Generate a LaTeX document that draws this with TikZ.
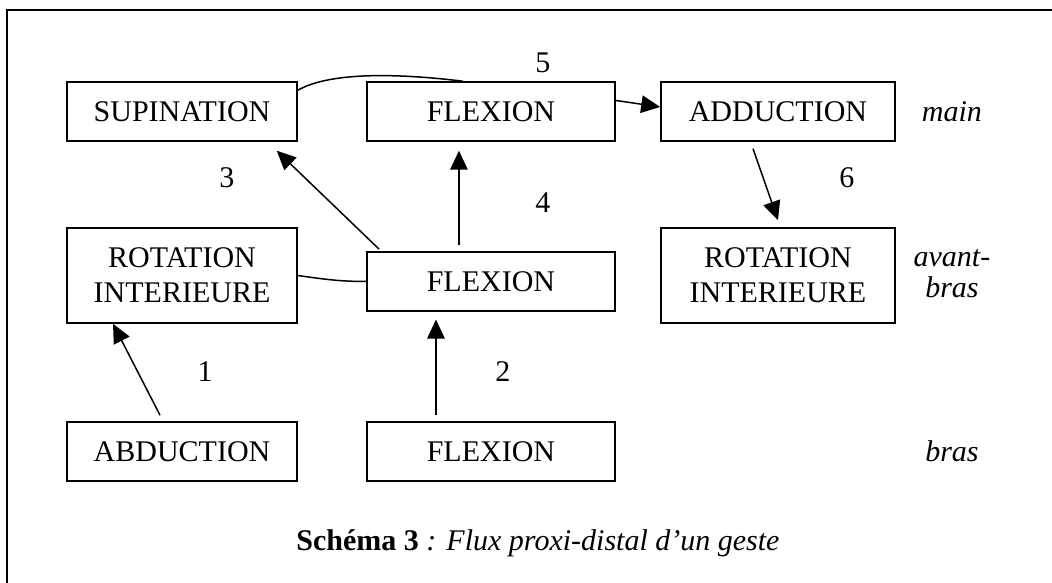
\documentclass[tikz,border=0pt]{standalone}
\usepackage{fontspec}
\setmainfont{Liberation Serif}
\usetikzlibrary{arrows.meta}

\begin{document}
\begin{tikzpicture}[
    font=\fontsize{12}{14}\selectfont,
    box/.style={draw, line width=0.6pt, align=center, inner sep=0pt,
        minimum width=#1, minimum height=0.829cm},
    seg/.style={font=\fontsize{12}{12.5}\selectfont\itshape, align=center},
    flow/.style={-{Triangle[length=7.6pt,width=7pt]}, line width=0.6pt}
]
    \useasboundingbox (0,0) rectangle (14.789,-8.182);
    \draw[line width=0.8pt] (0.098,-8.4) |- (15,-0.141);

    % main
    \node[box=3.233cm] (sup) at (2.559,-1.567) {SUPINATION};
    \node[box=3.486cm] (flexT) at (6.902,-1.567) {FLEXION};
    \node[box=3.290cm] (add) at (10.937,-1.567) {ADDUCTION};
    \node[seg] (main) at (13.383,-1.567) {main};

    % avant-bras
    \node[box=3.233cm, minimum height=1.336cm] (rotL) at (2.559,-3.873) {ROTATION\\INTERIEURE};
    \node[box=3.486cm] (flexM) at (6.902,-3.957) {FLEXION};
    \node[box=3.290cm, minimum height=1.336cm] (rotR) at (10.937,-3.873) {ROTATION\\INTERIEURE};
    \node[seg] (avb) at (13.383,-3.85) {avant-\\bras};

    % bras
    \node[box=3.233cm] (abd) at (2.559,-6.347) {ABDUCTION};
    \node[box=3.486cm] (flexB) at (6.902,-6.347) {FLEXION};
    \node[seg] (bras) at (13.383,-6.34) {bras};

    % numeros
    \node (n1) at (2.882,-5.230) {1};
    \node (n2) at (7.071,-5.230) {2};
    \node (n3) at (3.191,-2.502) {3};
    \node (n4) at (7.633,-2.854) {4};
    \node (n5) at (7.633,-0.886) {5};
    \node (n6) at (11.907,-2.502) {6};

    \draw[flow] ([xshift=-0.309cm,yshift=0.084cm]abd.north) -- ([xshift=-0.97cm]rotL.south);
    \draw[flow] ([xshift=-0.773cm,yshift=0.084cm]flexB.north) -- ([xshift=-0.773cm,yshift=-0.11cm]flexM.south);
    \draw[line width=0.6pt] (rotL.east) to[out=-8,in=180] (flexM.west);
    \draw[flow] ([xshift=0.18cm,yshift=0.03cm]flexM.north west) -- ([xshift=-0.295cm,yshift=-0.127cm]sup.south east);
    \draw[flow] ([xshift=-0.45cm,yshift=0.084cm]flexM.north) -- ([xshift=-0.45cm,yshift=-0.127cm]flexT.south);
    \draw[line width=0.6pt] ([yshift=-0.127cm]sup.north east) .. controls +(30:0.53) and +(173:0.89) .. ([xshift=-0.394cm]flexT.north);
    \draw[flow] ([yshift=0.155cm]flexT.east) -- ([yshift=0.063cm]add.west);
    \draw[flow] ([xshift=-0.351cm,yshift=-0.098cm]add.south) -- ([yshift=0.098cm]rotR.north);

    \node (cap) at (7.563,-7.633) {\textbf{Schéma 3}\textit{ : Flux proxi-distal d’un geste}};
\end{tikzpicture}
\end{document}
